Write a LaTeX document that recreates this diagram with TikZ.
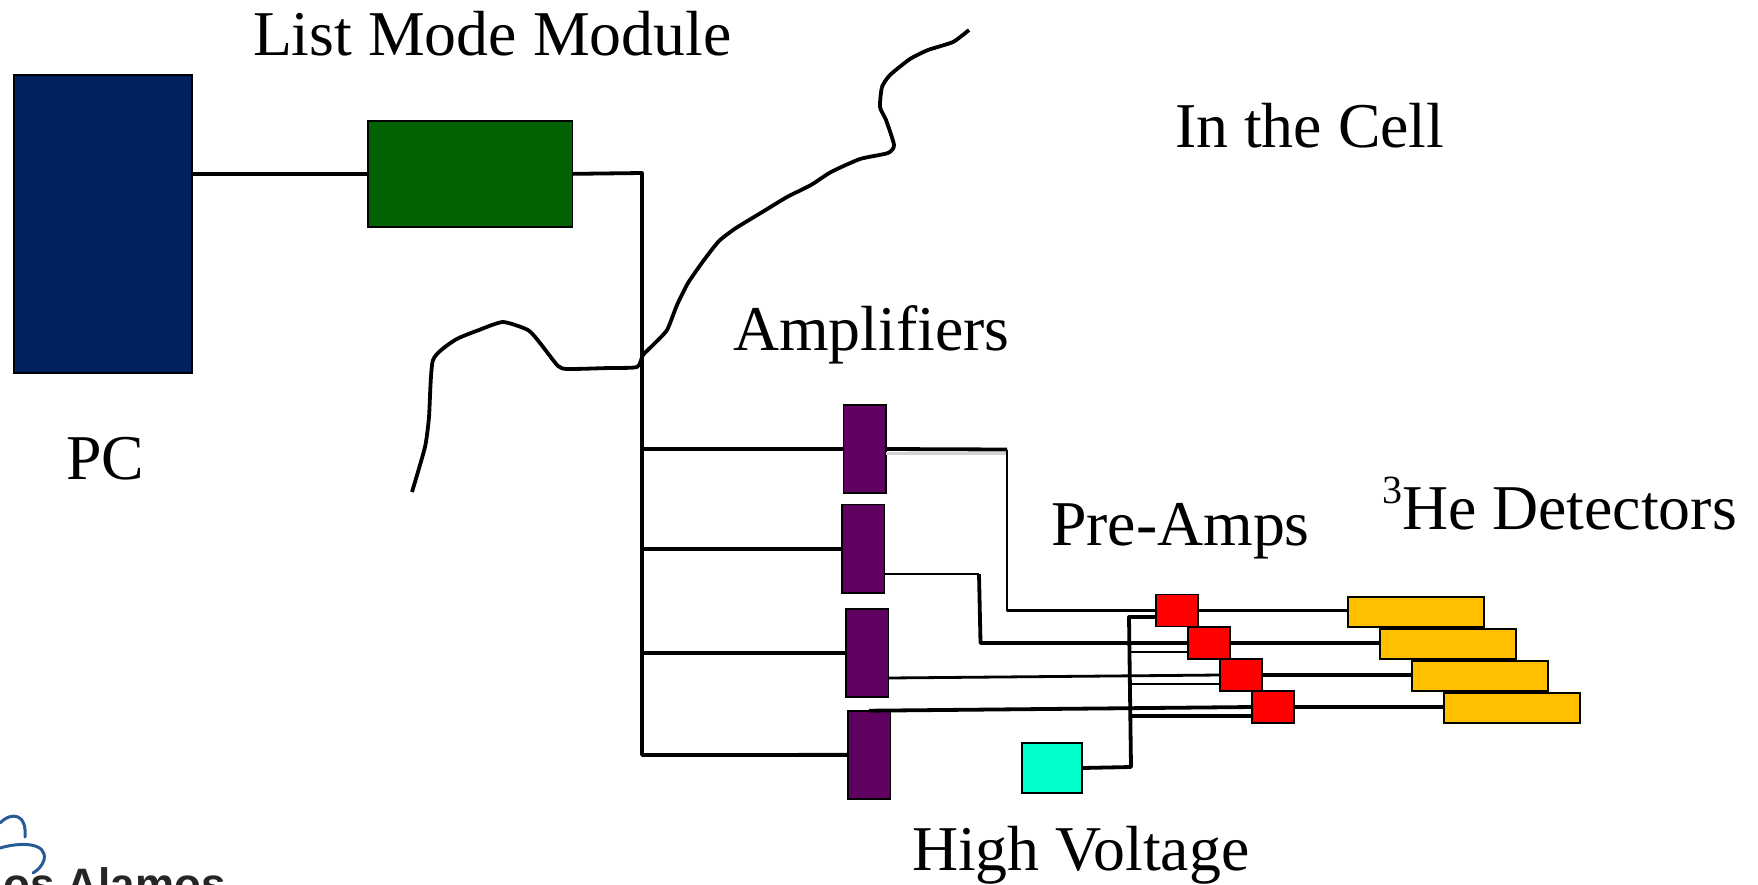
\documentclass[tikz,border=0pt]{standalone}
\usepackage{fontspec}
\setmainfont{Liberation Serif}
\newfontfamily\logofont{Liberation Sans}[Scale=1]
\definecolor{pcblue}{RGB}{0,32,96}
\definecolor{modgreen}{RGB}{0,98,0}
\definecolor{ampviolet}{RGB}{96,0,96}
\definecolor{hvcyan}{RGB}{0,255,204}
\definecolor{detgold}{RGB}{255,192,0}
\definecolor{logoblue}{RGB}{40,90,150}
\tikzset{
  block/.style={draw=black,line width=1.6pt,inner sep=0pt,outer sep=0pt,anchor=north west},
  wire/.style={draw=black,line width=3.8pt,line join=round},
  thinwire/.style={draw=black,line width=2.8pt,line join=round},
  label/.style={anchor=base west,inner sep=0pt,outer sep=0pt,font=\fontsize{63.8}{70}\selectfont},
}
\begin{document}
\begin{tikzpicture}[x=1pt,y=-1pt]
\useasboundingbox (0,0) rectangle (1758,884);
% blocks
\node[block,fill=pcblue,minimum width=178pt,minimum height=298pt] (pc) at (14,75) {};
\node[block,fill=modgreen,minimum width=204.6pt,minimum height=106.3pt] (green) at (368,120.7) {};
\node[block,fill=ampviolet,minimum width=42.5pt,minimum height=88pt] (amp1) at (843.5,405) {};
\node[block,fill=ampviolet,minimum width=42.5pt,minimum height=88.5pt] (amp2) at (842,504.5) {};
\node[block,fill=ampviolet,minimum width=42.5pt,minimum height=88.3pt] (amp3) at (846,608.7) {};
\node[block,fill=ampviolet,minimum width=42.5pt,minimum height=88.3pt] (amp4) at (848,710.7) {};
\node[block,fill=red,minimum width=42pt,minimum height=32pt] (red1) at (1156,594.5) {};
\node[block,fill=red,minimum width=42pt,minimum height=32pt] (red2) at (1188,627) {};
\node[block,fill=red,minimum width=42pt,minimum height=32pt] (red3) at (1220,659) {};
\node[block,fill=red,minimum width=42pt,minimum height=32pt] (red4) at (1252,691) {};
\node[block,fill=hvcyan,minimum width=60pt,minimum height=50pt] (hv) at (1022,743) {};
\node[block,fill=detgold,minimum width=136pt,minimum height=30.3pt] (det1) at (1348,596.7) {};
\node[block,fill=detgold,minimum width=136pt,minimum height=30pt] (det2) at (1380,629) {};
\node[block,fill=detgold,minimum width=136pt,minimum height=30pt] (det3) at (1412,660.7) {};
\node[block,fill=detgold,minimum width=136pt,minimum height=30pt] (det4) at (1444,693) {};
% helper points
\coordinate (busT) at (642,173);
\coordinate (busB) at (642,755);
\coordinate (sigA) at (1007,449.5);
\coordinate (sigBo) at (884,574);
\coordinate (sigB) at (979,574);
\coordinate (sigC) at (980.5,643);
\coordinate (sigDo) at (869,710.7);
\coordinate (hvB) at (1131,767);
\coordinate (hvT) at (1129,617);
% main bus
\draw[wire] (pc.east |- green.west) -- (green.west);
\draw[wire] (green.east) -- (busT) -- (busB) -- (amp4.west);
\draw[wire] (busT |- amp1.west) -- (amp1.west);
\draw[wire] (busT |- amp2.west) -- (amp2.west);
\draw[wire] (busT |- amp3.west) -- (amp3.west);
% amplifiers to pre-amps
\draw[gray!35,line width=3pt] (amp1.east |- 0,453) -- (sigA |- 0,453);
\draw[wire] (amp1.east) -- (sigA);
\draw[thinwire] (sigA) -- (sigA |- red1.west) -- (red1.west);
\draw[thinwire] (amp2.east |- sigBo) -- (sigB);
\draw[wire] (sigB) -- (sigC) -- (red2.west |- sigC);
\draw[thinwire] (amp3.east |- 0,678) -- (red3.west |- 0,675);
\draw[wire] (sigDo) -- (red4.west);
% high voltage
\draw[wire] (hv.east) -- (hvB) -- (hvT) -- (red1.west |- hvT);
\draw[thinwire] (1130,652) -- (red2.west |- 0,652);
\draw[thinwire] (1130,684) -- (red3.west |- 0,684);
\draw[wire] (1130,716) -- (red4.west |- 0,716);
% pre-amps to detectors
\draw[wire] (red1.east) -- (det1.west |- red1.east);
\draw[wire] (red2.east) -- (det2.west |- red2.east);
\draw[wire] (red3.east) -- (det3.west |- red3.east);
\draw[wire] (red4.east) -- (det4.west |- red4.east);
% cell boundary
\draw[line width=3.8pt,line join=round,line cap=butt] plot[smooth,tension=0.35] coordinates {
(969,30) (953,42) (928,50) (910,59) (890,75) (882,87) (880,107) (886,120) (894,145) (888,153)
(860,159) (831,172) (811,185) (787,197) (764,211) (736,228) (719,241) (704,260) (688,283)
(677,305) (667,330) (653,345) (643,355) (637,367) (609,368) (568,369) (558,366) (540,343)
(528,330) (503,322) (479,330) (455,340) (433,360) (429,417) (425,447) (412,492)};
% labels
\node[label] (tlist) at (253,55) {List Mode Module};
\node[label] (tcell) at (1175,147) {In the Cell};
\node[label] (tamp) at (733,350) {Amplifiers};
\node[label] (tpc) at (66,479) {PC};
\node[label] (tpre) at (1051,545) {Pre-Amps};
\node[label] (tdet) at (1382,529) {\raisebox{26pt}{\fontsize{40}{40}\selectfont 3}He Detectors};
\node[label] (thv) at (912,870) {High Voltage};
% logo, cut by the picture's edge
\begin{scope}
\clip (0,0) rectangle (1758,884);
\draw[logoblue,line width=3pt,line cap=round] (0,823) .. controls (12,811) and (27,814) .. (25,837);
\draw[logoblue,line width=3pt,line cap=round] (0,848) .. controls (20,842) and (48,842) .. (44,860) .. controls (42,866) and (38,870) .. (33,873);
\node[anchor=base west,inner sep=0pt,font=\logofont\bfseries\fontsize{44}{44}\selectfont,text=black!85] (tlogo) at (3,899) {os Alamos};
\end{scope}
\end{tikzpicture}
\end{document}
